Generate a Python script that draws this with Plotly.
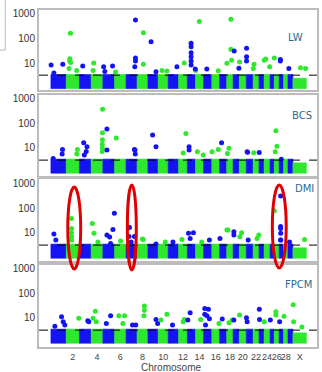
import plotly.graph_objects as go

# ---------------- data ----------------
chrom_names = [str(i) for i in range(1, 30)] + ["X"]
chrom_len_mb = [158, 137, 121, 121, 121, 119, 113, 113, 105, 104, 107, 91, 84, 84, 85,
                81, 73, 66, 64, 72, 71, 61, 52, 62, 43, 51, 45, 46, 51, 139]
tick_chroms = ["2", "4", "6", "8", "10", "12", "14", "16", "18", "20", "22", "24", "26", "28", "X"]
traits = ["LW", "BCS", "DMI", "FPCM"]
thresholds = [3.2, 3.1, 3.1, 3.1]
bulk_bottom = 0.9
bulk_top_autosome = 3.4
bulk_top_x = 2.4

LW_chrom = ["1", "1", "1", "2", "2", "2", "2", "2", "2", "3", "4", "4", "5", "5", "5", "6",
            "7", "7", "7", "7", "8", "8", "9", "9", "10", "10", "11", "12",
            "13", "13", "13", "13", "13", "13", "14", "14", "13", "15", "16",
            "18", "18", "18", "18", "19", "20", "21", "21", "21", "19", "22", "22",
            "24", "24", "26", "27", "27", "24", "29", "X", "X"]
LW_pos = [2, 31, 123, 44, 38, 36, 46, 30, 109, 34, 26, 20, 8, 100, 20, 10,
          97, 97, 97, 90, 66, 66, 32, 83, 40, 91, 90, 59,
          39, 39, 39, 39, 39, 39, 40, 2, 82, 33, 67,
          2, 43, 43, 50, 11, 3, 3, 3, 3, 60, 9, 2,
          2, 18, 1, 12, 12, 58, 9, 79, 131]
LW_val = [8.3, 3.9, 9, 163, 15, 12, 10.5, 6, 5, 7.5, 10, 5, 7, 7.5, 4.5, 4.3,
          570, 16, 12, 7, 172, 9, 74, 4.4, 5, 4.7, 7, 10,
          64, 46, 26, 18, 12, 8.3, 487, 5, 5.7, 5.7, 4.8,
          9.7, 610, 36, 13, 31, 11, 40, 18, 12, 6.1, 8.9, 6,
          13, 14.5, 16, 14, 12, 7, 6, 6.4, 6]

BCS_chrom = ["1", "1", "1", "2", "2", "3", "3", "3", "3", "4", "4", "4", "4", "4", "4",
             "5", "5", "6", "7", "7", "7", "9", "9", "12", "13", "13", "12", "14", "14",
             "16", "16", "17", "18", "18", "21", "21", "22", "23", "26", "26", "26", "27"]
BCS_pos = [24, 120, 116, 116, 110, 44, 78, 70, 50, 118, 117, 116, 115, 116, 114,
           42, 42, 17, 86, 92, 95, 48, 83, 76, 18, 18, 48, 20, 80,
           2, 67, 20, 23, 8, 9, 14, 6, 2, 17, 28, 11, 22]
BCS_val = [3.6, 8.5, 5.5, 8.5, 5.5, 16, 11, 7, 5, 380, 41, 21, 14, 10, 7,
           58, 8, 25, 8.5, 8, 5.5, 33, 11, 38, 11, 8, 6, 6.8, 5,
           6.8, 8.5, 16, 9.4, 5.8, 6.8, 6.5, 6.2, 6.4, 49, 11.6, 6.8, 3.4]

DMI_chrom = ["1", "1", "2", "2", "2", "2", "2", "4", "4", "4", "5", "5", "5", "5", "5",
             "7", "7", "7", "7", "6", "8", "8", "9", "10", "11", "13", "13", "12", "13",
             "15", "14", "18", "18", "19", "19", "20", "20", "21", "22", "22", "17",
             "26", "27", "27", "27", "27", "27", "27", "29", "X"]
DMI_pos = [31, 51, 55, 55, 55, 56, 57, 12, 29, 70, 119, 104, 42, 70, 80,
           35, 30, 86, 52, 62, 55, 65, 83, 74, 49, 12, 63, 35, 29,
           60, 65, 2, 12, 8, 8, 24, 6, 20, 58, 40, 3,
           1, 15, 15, 15, 16, 14, 17, 16, 120]
DMI_val = [8.8, 5, 38, 15, 10, 6.8, 5, 24, 9.4, 4.2, 62, 13.6, 8, 6.6, 3.6,
           16.5, 7, 7, 4.2, 4.6, 5.5, 5.2, 3.4, 4.2, 4.2, 9.4, 9.9, 5.3, 5.8,
           5, 4.2, 12.8, 12.8, 10.9, 8, 9.9, 6.8, 5, 8, 5.8, 5.8,
           80, 316, 18, 15, 9.4, 5, 5, 4.2, 5.3]

FPCM_chrom = ["1", "1", "1", "1", "2", "3", "3", "4", "4", "4", "5", "5", "6", "6", "6",
              "7", "7", "8", "8", "8", "9", "9", "10", "10", "11", "12", "12", "13", "13",
              "14", "15", "15", "15", "15", "15", "15", "16", "17", "18", "18", "19", "20",
              "21", "21", "23", "23", "24", "25", "26", "26", "27", "28", "X", "X", "X"]
FPCM_pos = [41, 110, 127, 144, 130, 86, 96, 43, 19, 53, 80, 36, 44, 103, 86,
            66, 100, 76, 76, 72, 83, 100, 91, 30, 45, 48, 59, 29, 5,
            54, 12, 50, 12, 35, 60, 20, 74, 27, 23, 57, 8, 3,
            2, 9, 3, 5, 2, 3, 17, 17, 5, 5, 3, 7, 93]
FPCM_val = [4.5, 10.9, 6.8, 5, 9.4, 7.5, 6.8, 18.6, 9.4, 6.8, 12, 5.8, 12, 12, 5.8,
            5, 5, 30, 20, 12, 8.5, 5.8, 14, 8, 5, 6.8, 8.5, 15.8, 8,
            8.5, 24, 22, 14, 12, 9, 5, 5.8, 8.8, 6.2, 8, 8, 12.8,
            10, 6.8, 22, 8.5, 6.8, 8, 17.5, 12.8, 6.8, 11.6, 33.8, 6.8, 4.2]

points = {
    "LW": (LW_chrom, LW_pos, LW_val),
    "BCS": (BCS_chrom, BCS_pos, BCS_val),
    "DMI": (DMI_chrom, DMI_pos, DMI_val),
    "FPCM": (FPCM_chrom, FPCM_pos, FPCM_val),
}

# ---------------- styling / layout ----------------
BLUE = "#1414f2"
GREEN = "#2ee82e"
W, H = 322, 372
ML, MR, MT, MB = 39, 3, 10, 25
PW, PH = W - ML - MR, H - MT - MB

def px_x(p):
    return (p - ML) / PW

def px_y(p):
    return (H - MB - p) / PH

panel_px = [(10, 90), (95, 176), (179, 261), (265, 347)]
panel_ranges = [[-0.1, 3.16], [-0.16, 3.16], [-0.16, 3.2], [-0.2, 3.16]]
x_range = [-123, 2750]

starts = {}
acc = 0
for n, L in zip(chrom_names, chrom_len_mb):
    starts[n] = acc
    acc += L
centers = [starts[n] + L / 2 for n, L in zip(chrom_names, chrom_len_mb)]
colors = [BLUE if i % 2 == 0 else GREEN for i in range(len(chrom_names))]
bulk_top = [bulk_top_x if n == "X" else bulk_top_autosome for n in chrom_names]

fig = go.Figure()
layout = dict(width=W, height=H, margin=dict(l=ML, r=MR, t=MT, b=MB),
              paper_bgcolor="white", plot_bgcolor="white", showlegend=False,
              barmode="overlay", font=dict(family="Arial", size=10, color="#333"))

for k, trait in enumerate(traits):
    sfx = "" if k == 0 else str(k + 1)
    xa, ya = "x" + sfx, "y" + sfx
    fig.add_trace(go.Bar(x=centers, y=[t - bulk_bottom for t in bulk_top], base=bulk_bottom,
                         width=chrom_len_mb,
                         marker=dict(color=colors, line=dict(width=0.6, color=colors)),
                         xaxis=xa, yaxis=ya, hoverinfo="skip"))
    ch, pos, val = points[trait]
    xs = [starts[c] + p for c, p in zip(ch, pos)]
    cs = [BLUE if chrom_names.index(c) % 2 == 0 else GREEN for c in ch]
    fig.add_trace(go.Scatter(x=xs, y=val, mode="markers",
                             marker=dict(color=cs, size=5, line=dict(width=0)),
                             xaxis=xa, yaxis=ya))
    fig.add_trace(go.Scatter(x=x_range, y=[thresholds[k]] * 2, mode="lines",
                             line=dict(color="black", width=1, dash="dash"),
                             xaxis=xa, yaxis=ya, hoverinfo="skip"))
    top, bot = panel_px[k]
    layout["xaxis" + sfx] = dict(domain=[0, 1], anchor=ya, range=x_range,
                                 showgrid=False, zeroline=False, showline=True, mirror=True,
                                 linecolor="#bcbcbc", linewidth=2, ticks="", tickangle=0,
                                 tickvals=[centers[chrom_names.index(c)] for c in tick_chroms],
                                 ticktext=tick_chroms, showticklabels=(k == 3),
                                 tickfont=dict(size=9, color="#444"))
    layout["yaxis" + sfx] = dict(domain=[px_y(bot), px_y(top)], anchor=xa, type="log",
                                 range=panel_ranges[k], showgrid=False, zeroline=False,
                                 showline=True, mirror=True, linecolor="#bcbcbc", linewidth=2,
                                 ticks="", tickvals=[10, 100, 1000],
                                 ticktext=["10", "100", "1000"],
                                 tickfont=dict(size=10, color="#333"))

label_px = [(297, 38), (304, 115), (306, 188), (300, 284)]
annotations = []
for trait, (lx, ly) in zip(traits, label_px):
    annotations.append(dict(text=trait, x=px_x(lx), y=px_y(ly), xref="paper", yref="paper",
                            showarrow=False, xanchor="center", yanchor="middle",
                            font=dict(family="DejaVu Sans", size=10, color="#2d6a8e")))
annotations.append(dict(text="Chromosome", x=px_x(172), y=px_y(367), xref="paper", yref="paper",
                        showarrow=False, xanchor="center", yanchor="middle",
                        font=dict(family="Arial", size=10, color="#444")))
layout["annotations"] = annotations

ellipses_px = [(68, 187, 81, 269), (128, 185, 137, 270), (274, 185, 288, 268)]
shapes = []
for x0, y0, x1, y1 in ellipses_px:
    shapes.append(dict(type="circle", xref="paper", yref="paper",
                       x0=px_x(x0), x1=px_x(x1), y0=px_y(y1), y1=px_y(y0),
                       line=dict(color="#e00000", width=3)))
shapes.append(dict(type="rect", xref="paper", yref="paper",
                   x0=px_x(-3), x1=px_x(5), y0=px_y(50), y1=px_y(-2),
                   line=dict(color="#a9bccf", width=1)))
layout["shapes"] = shapes

fig.update_layout(**layout)
fig.write_html("out.html", config={"displayModeBar": False},
               post_script="document.body.style.margin='0';document.body.style.overflow='hidden';")
